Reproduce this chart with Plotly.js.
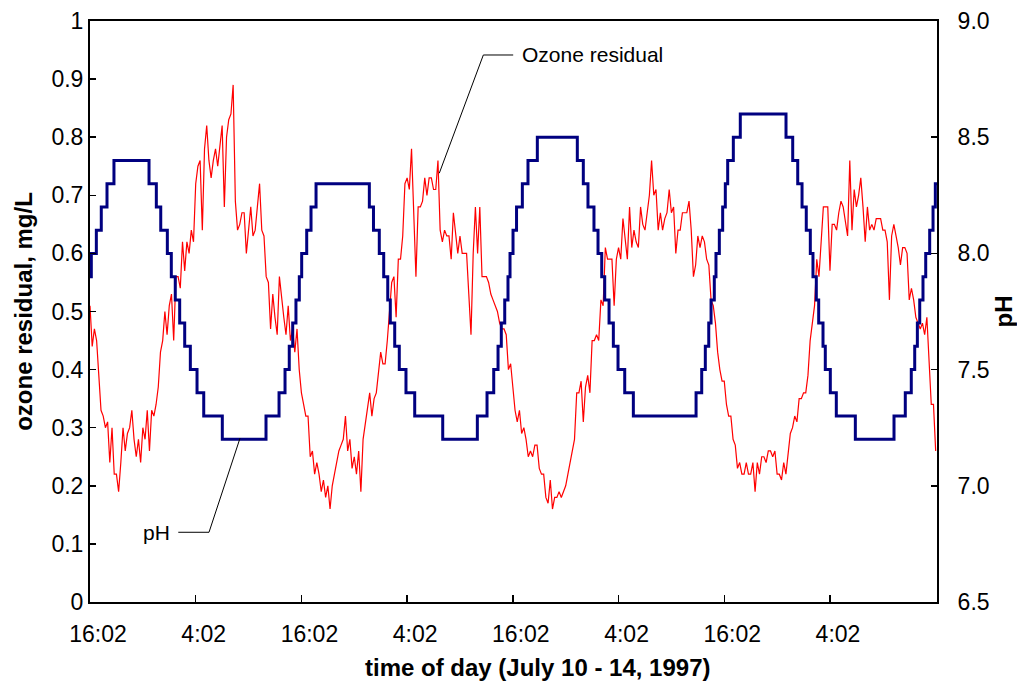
<!DOCTYPE html>
<html>
<head>
<meta charset="utf-8">
<script src="https://cdn.plot.ly/plotly-3.0.1.min.js"></script>
<style>html,body{margin:0;padding:0;background:#fff;}#chart{width:1017px;height:683px;}</style>
</head>
<body>
<div id="chart"></div>
<script>
// Time axis: hours after 16:02 on July 10, 1997
const tickHours = [0, 12, 24, 36, 48, 60, 72, 84];
const tickLabels = ["16:02", "4:02", "16:02", "4:02", "16:02", "4:02", "16:02", "4:02"];

// pH set points (step changes): hour of change and new pH
const phHours = [0, 0.15, 0.72, 1.28, 1.93, 2.72, 6.70, 7.53, 8.03, 8.78, 9.23, 9.68, 10.18, 10.75, 11.39, 12.15, 12.91, 15.02,
  19.98, 21.46, 22.14, 22.62, 23.01, 23.38, 23.76, 24.03, 24.60, 25.09, 25.66,
  31.71, 32.18, 32.84, 33.34, 33.80, 34.09, 34.59, 35.11, 35.87, 36.86, 40.04,
  43.97, 45.07, 45.83, 46.32, 46.69, 47.08, 47.45, 47.68, 48.02, 48.42, 49.08, 49.72, 50.78,
  55.32, 56.00, 56.53, 57.21, 57.67, 58.09, 58.43, 58.92, 59.41, 59.94, 60.70, 61.68,
  68.80, 69.44, 69.85, 70.24, 70.50, 70.87, 71.06, 71.44, 71.82, 72.12, 72.39, 73.03, 73.82,
  79.01, 79.77, 80.34, 80.83, 81.31, 81.77, 82.07, 82.45, 82.72, 83.21, 83.47, 84.04, 84.72, 86.88,
  91.27, 92.55, 93.23, 93.62, 93.92, 94.19, 94.56, 94.87, 95.32, 95.70, 95.96, 96.15];
const phValues = [7.9, 8.0, 8.1, 8.2, 8.3, 8.4, 8.3, 8.2, 8.1, 8.0, 7.9, 7.8, 7.7, 7.6, 7.5, 7.4, 7.3, 7.2,
  7.3, 7.4, 7.5, 7.6, 7.7, 7.8, 7.9, 8.0, 8.1, 8.2, 8.3,
  8.2, 8.1, 8.0, 7.9, 7.8, 7.7, 7.6, 7.5, 7.4, 7.3, 7.2,
  7.3, 7.4, 7.5, 7.6, 7.7, 7.8, 7.9, 8.0, 8.1, 8.2, 8.3, 8.4, 8.5,
  8.4, 8.3, 8.2, 8.1, 8.0, 7.9, 7.8, 7.7, 7.6, 7.5, 7.4, 7.3,
  7.4, 7.5, 7.6, 7.7, 7.8, 7.9, 8.0, 8.1, 8.2, 8.3, 8.4, 8.5, 8.6,
  8.5, 8.4, 8.3, 8.2, 8.1, 8.0, 7.9, 7.8, 7.7, 7.6, 7.5, 7.4, 7.3, 7.2,
  7.3, 7.4, 7.5, 7.6, 7.7, 7.8, 7.9, 8.0, 8.1, 8.2, 8.3, 8.3];

// Ozone residual (mg/L), read every 15 minutes starting at 16:02
const ozoneStartHour = 0;
const ozoneStepHours = 0.25;
const ozoneResidual = [
  0.51, 0.44, 0.47, 0.45, 0.39, 0.33, 0.32, 0.30, 0.31, 0.24,
  0.30, 0.22, 0.22, 0.19, 0.24, 0.30, 0.26, 0.29, 0.30, 0.33,
  0.28, 0.25, 0.28, 0.24, 0.30, 0.28, 0.33, 0.26, 0.33, 0.32,
  0.34, 0.37, 0.43, 0.45, 0.50, 0.46, 0.51, 0.53, 0.45, 0.56,
  0.56, 0.54, 0.62, 0.57, 0.62, 0.60, 0.64, 0.62, 0.72, 0.75,
  0.76, 0.64, 0.78, 0.82, 0.76, 0.73, 0.76, 0.78, 0.75, 0.79,
  0.82, 0.68, 0.80, 0.83, 0.84,
  0.89, 0.69, 0.64, 0.65, 0.67, 0.67, 0.60, 0.64, 0.68, 0.63,
  0.64, 0.68, 0.72, 0.64, 0.63, 0.56, 0.55, 0.47, 0.53, 0.49,
  0.46, 0.56, 0.52, 0.49, 0.46, 0.51, 0.45, 0.47, 0.43, 0.47,
  0.40, 0.36, 0.34, 0.32, 0.32, 0.25, 0.26, 0.22, 0.24, 0.22,
  0.19, 0.21, 0.18, 0.20, 0.16, 0.20, 0.22, 0.24, 0.26, 0.27,
  0.28, 0.32, 0.26, 0.28, 0.23, 0.25, 0.22, 0.26, 0.19, 0.28,
  0.31, 0.34, 0.36, 0.32,
  0.35, 0.36, 0.40, 0.43, 0.41, 0.41, 0.45, 0.51, 0.55, 0.56,
  0.49, 0.59, 0.59, 0.63, 0.72, 0.73, 0.71, 0.78, 0.68, 0.56,
  0.68, 0.68, 0.69, 0.73, 0.70, 0.73, 0.73, 0.71, 0.71, 0.76,
  0.64, 0.62, 0.64, 0.63, 0.63, 0.59, 0.67, 0.64, 0.60, 0.63,
  0.60, 0.60, 0.60, 0.53, 0.46, 0.60, 0.68, 0.60, 0.68, 0.56,
  0.56, 0.56, 0.55, 0.53, 0.52, 0.51, 0.50, 0.48, 0.47, 0.47,
  0.46, 0.40, 0.41, 0.37, 0.33,
  0.31, 0.33, 0.29, 0.30, 0.28, 0.25, 0.26, 0.25, 0.27, 0.27,
  0.23, 0.22, 0.22, 0.18, 0.17, 0.21, 0.16, 0.18, 0.18, 0.19,
  0.18, 0.19, 0.20, 0.22, 0.24, 0.26, 0.28, 0.36, 0.36, 0.38,
  0.31, 0.37, 0.39, 0.36, 0.45, 0.45, 0.46, 0.45, 0.52, 0.51,
  0.61, 0.59, 0.59, 0.59, 0.51, 0.59, 0.61, 0.59, 0.66, 0.62,
  0.59, 0.68, 0.61, 0.64, 0.62, 0.61, 0.68, 0.65, 0.64, 0.67,
  0.70, 0.76, 0.70, 0.71, 0.64,
  0.67, 0.64, 0.66, 0.67, 0.71, 0.67, 0.68, 0.60, 0.64, 0.64,
  0.67, 0.67, 0.67, 0.69, 0.64, 0.56, 0.58, 0.63, 0.61, 0.63,
  0.62, 0.59, 0.58, 0.52, 0.51, 0.48, 0.43, 0.40, 0.38, 0.38,
  0.34, 0.32, 0.32, 0.28, 0.27, 0.23, 0.24, 0.22, 0.22, 0.24,
  0.22, 0.22, 0.24, 0.19, 0.24, 0.22, 0.25, 0.25, 0.24, 0.26,
  0.26, 0.25, 0.26, 0.22, 0.22, 0.21, 0.24, 0.22, 0.26, 0.29,
  0.30, 0.32, 0.31, 0.35,
  0.35, 0.36, 0.36, 0.39, 0.45, 0.48, 0.51, 0.59, 0.56, 0.62,
  0.68, 0.68, 0.68, 0.57, 0.65, 0.65, 0.64, 0.67, 0.69, 0.68,
  0.65, 0.63, 0.76, 0.64, 0.71, 0.68, 0.70, 0.73, 0.68, 0.62,
  0.68, 0.64, 0.65, 0.64, 0.66, 0.66, 0.66, 0.64, 0.64, 0.62,
  0.52, 0.63, 0.65, 0.63, 0.61, 0.58, 0.61, 0.61, 0.60, 0.52,
  0.54, 0.52, 0.49, 0.48, 0.47, 0.48, 0.46, 0.49, 0.42, 0.34,
  0.34, 0.26
];
const ozoneHours = ozoneResidual.map((_, i) => ozoneStartHour + i * ozoneStepHours);

const FONT = "Liberation Sans, Arial, sans-serif";

const traces = [
  {
    x: ozoneHours, y: ozoneResidual, type: "scatter", mode: "lines",
    name: "Ozone residual", line: {color: "#ff0000", width: 1.2}, yaxis: "y"
  },
  {
    x: phHours, y: phValues, type: "scatter", mode: "lines",
    name: "pH", line: {color: "#000080", width: 3, shape: "hv"}, yaxis: "y2"
  }
];

const layout = {
  width: 1017, height: 683,
  margin: {l: 90, r: 80, t: 21, b: 81, pad: 0},
  paper_bgcolor: "#ffffff", plot_bgcolor: "#ffffff",
  showlegend: false,
  font: {family: FONT, color: "#000000", size: 23},
  xaxis: {
    range: [0, 96.15], tickmode: "array", tickvals: tickHours, ticktext: tickLabels,
    ticks: "inside", ticklen: 7, tickwidth: 1.5, tickcolor: "#000",
    showline: true, linewidth: 2, linecolor: "#000", mirror: true,
    showgrid: false, zeroline: false, ticklabelshift: 8, ticklabelstandoff: 10,
    tickfont: {family: FONT, size: 23, color: "#000"}
  },
  yaxis: {
    range: [0, 1], dtick: 0.1, tick0: 0,
    ticks: "inside", ticklen: 6, tickwidth: 1.5, tickcolor: "#000",
    showline: true, linewidth: 2, linecolor: "#000",
    showgrid: false, zeroline: false,
    tickfont: {family: FONT, size: 23, color: "#000"},
    title: {text: "<b>ozone residual, mg/L</b>", font: {family: FONT, size: 24, color: "#000"}, standoff: 12}
  },
  yaxis2: {
    overlaying: "y", side: "right", range: [6.5, 9.0], dtick: 0.5, tick0: 6.5, tickformat: ".1f",
    ticks: "inside", ticklen: 6, tickwidth: 1.5, tickcolor: "#000",
    showline: true, linewidth: 2, linecolor: "#000",
    showgrid: false, zeroline: false, ticklabelstandoff: 14,
    tickfont: {family: FONT, size: 23, color: "#000"},
    title: {text: "<b>pH</b>", font: {family: FONT, size: 24, color: "#000"}, standoff: 8}
  },
  shapes: [
    {type: "line", xref: "x", yref: "y", x0: 39.65, y0: 0.738, x1: 44.65, y1: 0.9415, line: {color: "#000", width: 1}},
    {type: "line", xref: "x", yref: "y", x0: 44.65, y0: 0.9415, x1: 48.04, y1: 0.9415, line: {color: "#000", width: 1}},
    {type: "line", xref: "x", yref: "y", x0: 17.03, y0: 0.282, x1: 13.51, y1: 0.12, line: {color: "#000", width: 1}},
    {type: "line", xref: "x", yref: "y", x0: 13.51, y0: 0.12, x1: 10.02, y1: 0.12, line: {color: "#000", width: 1}}
  ],
  annotations: [
    {text: "Ozone residual", xref: "x", yref: "y", x: 48.8, y: 0.9415, xanchor: "left", yanchor: "middle",
     showarrow: false, font: {family: FONT, size: 21, color: "#000"}},
    {text: "pH", xref: "x", yref: "y", x: 9.3, y: 0.12, xanchor: "right", yanchor: "middle",
     showarrow: false, font: {family: FONT, size: 21, color: "#000"}},
    {text: "<b>time of day (July 10 - 14, 1997)</b>", xref: "paper", yref: "paper", x: 0.528, y: -0.112,
     xanchor: "center", yanchor: "middle", showarrow: false, font: {family: FONT, size: 24, color: "#000"}}
  ]
};

Plotly.newPlot("chart", traces, layout, {displayModeBar: false, staticPlot: true});
</script>
</body>
</html>
